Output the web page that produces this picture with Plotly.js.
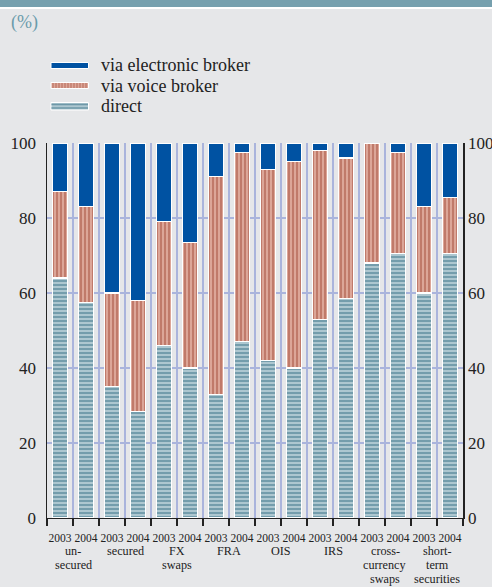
<!DOCTYPE html>
<html>
<head>
<meta charset="utf-8">
<script src="https://cdn.plot.ly/plotly-3.0.1.min.js"></script>
<style>html,body{margin:0;padding:0;background:#e6e7e9;}#chart{width:492px;height:587px;}</style>
</head>
<body>
<div id="chart"></div>
<script>
const years = ["2003","2004","2003","2004","2003","2004","2003","2004","2003","2004","2003","2004","2003","2004","2003","2004"];
const groups = [["un-","secured"],["secured"],["FX","swaps"],["FRA"],["OIS"],["IRS"],["cross-","currency","swaps"],["short-","term","securities"]];
const direct     = [64, 57.5, 35, 28.5, 46, 40, 33, 47, 42, 40, 53, 58.5, 68, 70.5, 60, 70.5];
const voice      = [23, 25.5, 25, 29.5, 33, 33.5, 58, 50.5, 51, 55, 45, 37.5, 32, 27, 23, 15];
const electronic = [13, 17, 40, 42, 21, 26.5, 9, 2.5, 7, 5, 2, 4, 0, 2.5, 17, 14.5];
const seriesNames = ["via electronic broker", "via voice broker", "direct"];
const yTicks = [0, 20, 40, 60, 80, 100];

const xs = years.map((_, i) => i);
const serif = "Liberation Serif, Times New Roman, serif";

// plot-area geometry helpers (pixel -> paper)
const L = 47, T = 143, W = 416, H = 375;
const px = v => (v - L) / W;
const py = v => (T + H - v) / H;

const C = {
  elec: "#0052a2",
  voiceBg: "#dca698", voiceFg: "#bd7565",
  dirBg: "#adc7d0", dirFg: "#6e98a8",
  grid: "#aab4dc"
};

const traces = [
  {type:"bar", name:seriesNames[2], x:xs, y:direct, width:0.6, showlegend:false,
   marker:{color:C.dirBg, line:{color:"#ffffff", width:1.2},
     pattern:{shape:"-", fgcolor:C.dirFg, bgcolor:C.dirBg, size:4, solidity:0.45}},
   hoverinfo:"skip"},
  {type:"bar", name:seriesNames[1], x:xs, y:voice, width:0.6, showlegend:false,
   marker:{color:C.voiceBg, line:{color:"#ffffff", width:1.2},
     pattern:{shape:"|", fgcolor:C.voiceFg, bgcolor:C.voiceBg, size:4, solidity:0.45}},
   hoverinfo:"skip"},
  {type:"bar", name:seriesNames[0], x:xs, y:electronic, width:0.6, showlegend:false,
   marker:{color:C.elec, line:{color:"#ffffff", width:1.2}},
   hoverinfo:"skip"},
  {type:"scatter", x:[null], y:[null], yaxis:"y2", showlegend:false, hoverinfo:"skip"}
];

const annotations = [];
groups.forEach((lines, k) => {
  lines.forEach((t, j) => {
    annotations.push({text: t, x: 2*k + 0.5, xref: "x", y: py(551 + 14.2*j), yref: "paper",
      yanchor: "middle", xanchor: "center", showarrow: false,
      font: {family: serif, size: 12.2, color: "#222"}});
  });
});
annotations.push({text:"(%)", xref:"paper", yref:"paper", x:px(9), y:py(22),
  xanchor:"left", yanchor:"middle", showarrow:false,
  font:{family:serif, size:18, color:"#6a9bab"}});

// manual legend
const legY = [65.5, 85.5, 106];
seriesNames.forEach((n, i) => {
  annotations.push({text:n, xref:"paper", yref:"paper", x:px(99), y:py(legY[i]),
    xanchor:"left", yanchor:"middle", showarrow:false,
    font:{family:serif, size:18, color:"#222"}});
});

const shapes = [
  {type:"rect", xref:"paper", yref:"paper", x0:-0.2, x1:1.2, y0:py(7), y1:py(-10),
   fillcolor:"#76a0ae", line:{width:0}, layer:"above"},
  {type:"rect", xref:"paper", yref:"paper", x0:-0.2, x1:1.2, y0:py(9), y1:py(7),
   fillcolor:"#ffffff", line:{width:0}, layer:"above"},
  // electronic swatch
  {type:"rect", xref:"paper", yref:"paper", x0:px(51), x1:px(88.5), y0:py(68.5), y1:py(62.5),
   fillcolor:C.elec, line:{color:"#ffffff", width:1}},
  // voice swatch
  {type:"rect", xref:"paper", yref:"paper", x0:px(51), x1:px(88.5), y0:py(88.5), y1:py(82.5),
   fillcolor:C.voiceBg, line:{color:"#ffffff", width:1}},
  // direct swatch
  {type:"rect", xref:"paper", yref:"paper", x0:px(51), x1:px(88.5), y0:py(110), y1:py(102.5),
   fillcolor:C.dirBg, line:{color:"#ffffff", width:1}}
];
for (let sx = 53; sx < 88; sx += 3) {
  shapes.push({type:"line", xref:"paper", yref:"paper", x0:px(sx), x1:px(sx), y0:py(88), y1:py(83),
    line:{color:C.voiceFg, width:1.2}});
}
[104.5, 108].forEach(sy => {
  shapes.push({type:"line", xref:"paper", yref:"paper", x0:px(51.5), x1:px(88), y0:py(sy), y1:py(sy),
    line:{color:C.dirFg, width:1.5}});
});

const layout = {
  width: 492, height: 587,
  margin: {l: L, r: 492 - L - W, t: T, b: 587 - T - H},
  paper_bgcolor: "#e6e7e9", plot_bgcolor: "#e6e7e9",
  barmode: "stack",
  showlegend: false,
  xaxis: {range: [-0.5, 15.5], tickmode: "array", tickvals: xs, ticktext: years, tickangle: 0,
    ticks: "outside", ticklen: 9, tickcolor: "rgba(0,0,0,0)",
    tickfont: {family: serif, size: 11.5, color: "#222"},
    showline: true, linecolor: "#222", linewidth: 1.2, showgrid: false, zeroline: false,
    minor: {tick0: -0.5, dtick: 1, ticks: "outside", ticklen: 7, tickcolor: "#222", tickwidth: 1.2,
      showgrid: true, gridcolor: C.grid, gridwidth: 1.5}},
  yaxis: {range: [0, 100], tickmode: "array", tickvals: yTicks,
    ticks: "", ticklabelstandoff: 6, tickfont: {family: serif, size: 17, color: "#222"},
    showline: true, linecolor: "#222", linewidth: 1.5,
    showgrid: true, gridcolor: C.grid, gridwidth: 1.5, zeroline: false},
  yaxis2: {range: [0, 100], overlaying: "y", side: "right", tickmode: "array", tickvals: yTicks,
    ticks: "", tickfont: {family: serif, size: 17, color: "#222"},
    showline: true, linecolor: "#222", linewidth: 1.5, showgrid: false, zeroline: false},
  shapes: shapes,
  annotations: annotations
};

Plotly.newPlot("chart", traces, layout, {displayModeBar: false, staticPlot: true});
</script>
</body>
</html>
